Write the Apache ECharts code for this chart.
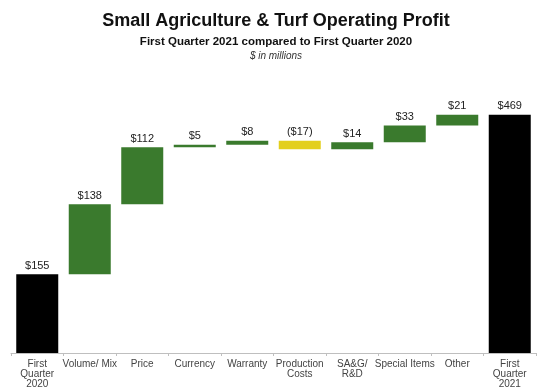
<!DOCTYPE html>
<html><head><meta charset="utf-8">
<script src="https://cdn.jsdelivr.net/npm/echarts@6/dist/echarts.min.js"></script>
<style>html,body{margin:0;padding:0;background:#fff}#c{width:550px;height:390px}</style>
</head><body><div id="c"></div>
<script>
var categories = ['First\nQuarter\n2020','Volume/ Mix','Price','Currency','Warranty','Production\nCosts','SA&G/\nR&D','Special Items','Other','First\nQuarter\n2021'];
var changes = [155, 138, 112, 5, 8, -17, 14, 33, 21, 469];
var isTotal = [true, false, false, false, false, false, false, false, false, true];
var valueLabels = ['$155','$138','$112','$5','$8','($17)','$14','$33','$21','$469'];

var GREEN = '#3a7a2d', YELLOW = '#e3cf1c', BLACK = '#000000';
var baseData = [], barData = [];
var cum = 0;
for (var i = 0; i < changes.length; i++) {
  var v = changes[i];
  if (isTotal[i]) {
    baseData.push(0);
    barData.push({value: v, itemStyle: {color: BLACK}});
    cum = v;
  } else {
    var lo = Math.min(cum, cum + v);
    baseData.push(lo);
    barData.push({value: Math.abs(v), itemStyle: {color: v < 0 ? YELLOW : GREEN}});
    cum += v;
  }
}

var chart = echarts.init(document.getElementById('c'));
chart.setOption({
  animation: false,
  title: [
    {text: 'Small Agriculture & Turf Operating Profit', left: 271, top: 7, textAlign: 'center',
     textStyle: {fontFamily: 'Liberation Sans', fontSize: 18, fontWeight: 'bold', color: '#111'}},
    {text: 'First Quarter 2021 compared to First Quarter 2020', left: 271, top: 31, textAlign: 'center',
     textStyle: {fontFamily: 'Liberation Sans', fontSize: 11.5, fontWeight: 'bold', color: '#111'}},
    {text: '$ in millions', left: 271, top: 46, textAlign: 'center',
     textStyle: {fontFamily: 'Liberation Sans', fontSize: 10, fontStyle: 'italic', fontWeight: 'normal', color: '#333'}}
  ],
  grid: {left: 11, right: 14, top: 99, bottom: 37, containLabel: false},
  xAxis: {
    type: 'category', data: categories,
    axisLine: {lineStyle: {color: '#bfbfbf'}},
    axisTick: {show: true, length: 3, lineStyle: {color: '#bfbfbf'}},
    axisLabel: {interval: 0, fontFamily: 'Liberation Sans', fontSize: 10, color: '#444', lineHeight: 10, margin: 6}
  },
  yAxis: {type: 'value', min: 0, max: 500, show: false, splitLine: {show: false}},
  series: [
    {type: 'bar', stack: 'w', data: baseData, itemStyle: {color: 'transparent'}, barCategoryGap: '20%', silent: true},
    {type: 'bar', stack: 'w', data: barData, barCategoryGap: '20%',
     label: {show: true, position: 'top', distance: 3, fontFamily: 'Liberation Sans', fontSize: 11, color: '#222',
       formatter: function(p){ return valueLabels[p.dataIndex]; }}}
  ]
});
</script>
</body></html>
